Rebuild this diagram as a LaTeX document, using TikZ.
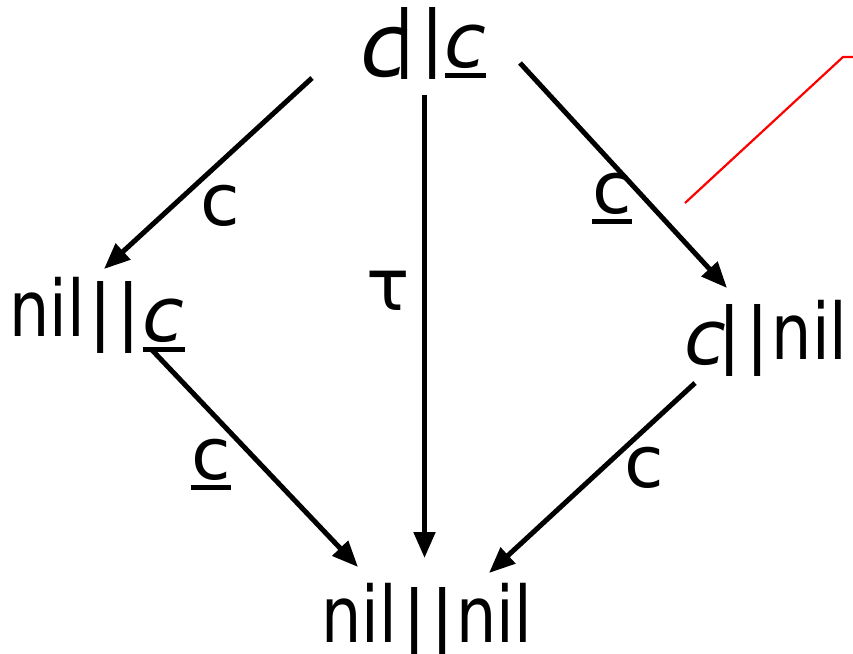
\documentclass[tikz,border=0pt]{standalone}
\usepackage{fontspec}
\usepackage{graphicx}
\setmainfont{DejaVu Sans}
\usetikzlibrary{arrows.meta}
\newcommand{\myul}[1]{\leavevmode\vtop{\hbox{#1}\kern5pt\hrule height 4.5pt}}
\newcommand{\ic}{\raisebox{-5pt}{\fontsize{76}{76}\selectfont\itshape c}}
\newcommand{\nil}{\scalebox{0.815}[1]{\fontsize{78}{78}\selectfont nil}}
\newcommand{\bars}{\makebox[28pt]{|}\makebox[28pt]{|}}
\begin{document}
\begin{tikzpicture}[x=1pt,y=-1pt,
  lbl/.style={font=\fontsize{72}{72}\selectfont, inner sep=0pt, anchor=base},
  st/.style={lbl, anchor=base west},
  arr/.style={line width=5pt, -{Triangle[length=26pt,width=21pt]}}]
\useasboundingbox (0,0) rectangle (853,653);
% states
\node[st] (top) at (360,62) {\raisebox{-14pt}{\fontsize{88}{88}\selectfont\itshape c}\hspace{-18pt}\bars\hspace{-2pt}\myul{\ic}};
\node[st] (left) at (9,336) {\nil\hspace{2pt}\bars\myul{\ic}};
\node[st] (right) at (684,359) {\ic\hspace{-10pt}\bars\nil};
\node[st] (bot) at (321,642) {\nil\hspace{3.5pt}\bars\nil};
% arrow end points
\coordinate (s1) at (312,78);  \coordinate (t1) at (104,269);
\coordinate (s2) at (424.5,95);  \coordinate (t2) at (424.5,558);
\coordinate (s3) at (520,63);  \coordinate (t3) at (727,288);
\coordinate (s4) at (152,350); \coordinate (t4) at (358,567);
\coordinate (s5) at (695,383); \coordinate (t5) at (489,573);
\draw[arr] (s1) -- (t1);
\draw[arr] (s2) -- (t2);
\draw[arr] (s3) -- (t3);
\draw[arr] (s4) -- (t4);
\draw[arr] (s5) -- (t5);
% labels
\node[lbl, anchor=center] (l1) at (220,206) {c};
\node[lbl, anchor=center] (l2) at (388,291) {τ};
\node[lbl] (l3) at (612,213) {\myul{c}};
\node[lbl] (l4) at (211,479) {\myul{c}};
\node[lbl, anchor=center] (l5) at (644,468) {c};
% red line
\coordinate (r1) at (685,203); \coordinate (r2) at (843,57); \coordinate (r3) at (853,57);
\draw[red, line width=2.2pt] (r1) -- (r2) -- (r3);
\end{tikzpicture}
\end{document}
